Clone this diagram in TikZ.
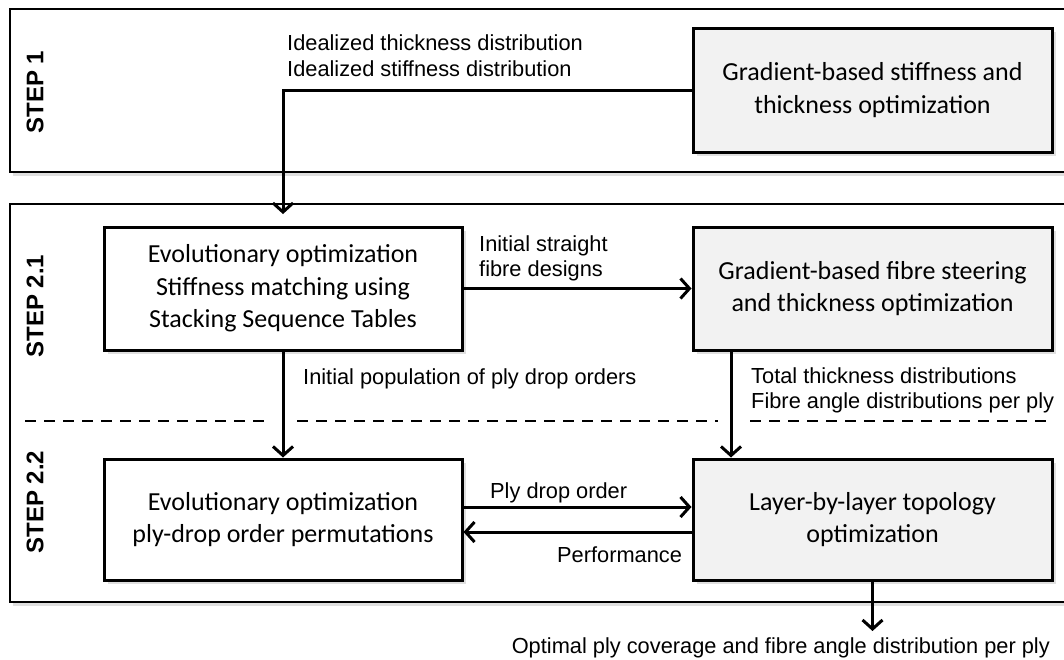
\documentclass[tikz,border=0pt]{standalone}
\usepackage{fontspec}
\newfontfamily\boxfont{Carlito}
\newfontfamily\lblfont{Liberation Sans}
\usetikzlibrary{arrows.meta,shadows}
\definecolor{boxgray}{HTML}{F2F2F2}
\begin{document}
\begin{tikzpicture}[x=1pt,y=-1pt,
  frame/.style={draw=black, line width=2.5pt, fill=white,
    drop shadow={shadow xshift=3pt,shadow yshift=-4pt,opacity=0.25}},
  proc/.style={draw=black, line width=3pt, fill=white, inner sep=0pt,
    font=\boxfont\fontsize{26}{32.5}\selectfont, align=center,
    drop shadow={shadow xshift=4pt,shadow yshift=-4pt,opacity=0.25}},
  gproc/.style={proc, fill=boxgray},
  lbl/.style={font=\lblfont\fontsize{21.8}{25.5}\selectfont, align=left, inner sep=0pt, anchor=north west},
  steplbl/.style={font=\lblfont\bfseries\fontsize{24}{28}\selectfont, rotate=90, inner sep=0pt},
  flow/.style={line width=3pt, -{Straight Barb[length=9pt,width=20pt,line width=3pt]}},
  sep/.style={line width=2pt, dash pattern=on 11pt off 8pt}
]
\useasboundingbox (0,0) rectangle (1064,659);
\clip (0,0) rectangle (1064,659);

% frames
\path[frame] (10,9) rectangle (1080,172);
\path[frame] (10,204) rectangle (1080,602);

% step separator
\draw[sep] (25,421) -- (270,421);
\draw[sep] (297,421) -- (718,421);
\draw[sep] (750,421) -- (1047,421);

% step labels
\node[steplbl] (st1) at (35,92) {STEP 1};
\node[steplbl] (st21) at (35,306) {STEP 2.1};
\node[steplbl] (st22) at (35,502) {STEP 2.2};

% boxes
\node[gproc, minimum width=359pt, minimum height=124pt] (s1) at (872.5,90)
  {Gradient-based stiffness and\\thickness optimization};
\node[proc, minimum width=358pt, minimum height=123pt] (evo1) at (283,288.5)
  {Evolutionary optimization\\Stiffness matching using\\Stacking Sequence Tables};
\node[gproc, minimum width=359pt, minimum height=123pt] (fib) at (872.5,288.5)
  {Gradient-based fibre steering\\and thickness optimization};
\node[proc, minimum width=358pt, minimum height=121pt] (evo2) at (283,519.5)
  {Evolutionary optimization\\ply-drop order permutations};
\node[gproc, minimum width=359pt, minimum height=121pt] (lay) at (872.5,519.5)
  {Layer-by-layer topology\\optimization};

% connectors
\coordinate (in1) at (283,214);
\coordinate (out) at (872.5,631);
\draw[flow] (s1.west) -| (in1);
\draw[flow] (evo1.east) -- (fib.west);
\draw[flow] (evo1.south) -- (evo2.north);
\draw[flow] ([xshift=39.5pt]fib.south west) -- ([xshift=39.5pt]lay.north west);
\draw[flow] ([yshift=12.5pt]evo2.east) -- ([yshift=12.5pt]lay.west);
\draw[flow] ([yshift=-12.5pt]lay.west) -- ([yshift=-12.5pt]evo2.east);
\draw[flow] (lay.south) -- (out);

% labels
\node[lbl] (l1) at (287,35) {Idealized thickness distribution\\Idealized stiffness distribution};
\node[lbl] (l2) at (479,235) {Initial straight\\fibre designs};
\node[lbl] (l3) at (303,368) {Initial population of ply drop orders};
\node[lbl] (l4) at (751,367) {Total thickness distributions\\Fibre angle distributions per ply};
\node[lbl] (l5) at (490,482) {Ply drop order};
\node[lbl] (l6) at (557,547) {Performance};
\node[lbl, anchor=north east] (l7) at (1050,637) {Optimal ply coverage and fibre angle distribution per ply};
\end{tikzpicture}
\end{document}
